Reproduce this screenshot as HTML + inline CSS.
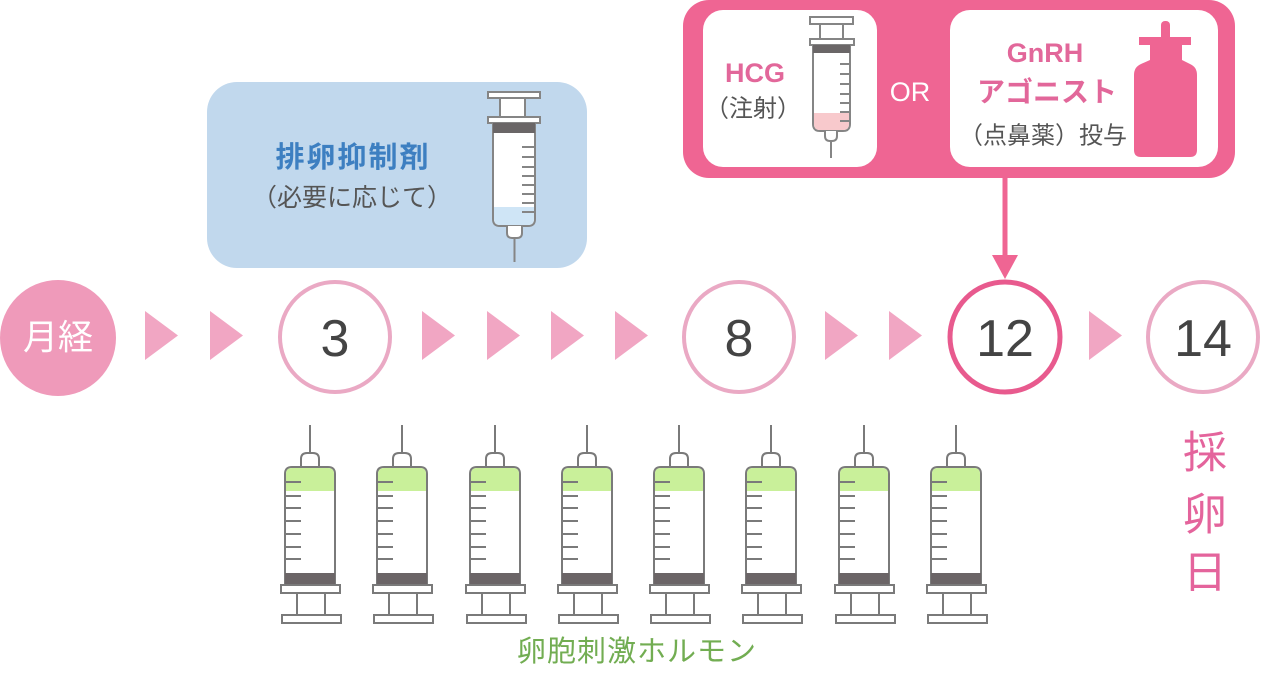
<!DOCTYPE html>
<html><head><meta charset="utf-8">
<style>
html,body{margin:0;padding:0;background:#fff;}
svg{display:block;}
text{font-family:"Liberation Sans","Noto Sans CJK JP",sans-serif;}
</style></head>
<body>
<svg width="1263" height="680" viewBox="0 0 1263 680" xmlns="http://www.w3.org/2000/svg">
<defs>
  <g id="gs">
    <line x1="0" y1="425" x2="0" y2="454" stroke="#7a7a7a" stroke-width="2"/>
    <path d="M-9,468 V459 Q-9,453 -3,453 H3 Q9,453 9,459 V468" fill="#fff" stroke="#7a7a7a" stroke-width="2"/>
    <path d="M-25,585 V474 Q-25,467 -18,467 H18 Q25,467 25,474 V585 Z" fill="#fff" stroke="#7a7a7a" stroke-width="2"/>
    <path d="M-24,491 V474 Q-24,468 -18,468 H18 Q24,468 24,474 V491 Z" fill="#c9f09a"/>
    <g stroke="#7a7a7a" stroke-width="2">
      <line x1="-24" y1="482" x2="-9" y2="482"/>
      <line x1="-24" y1="496" x2="-9" y2="496"/>
      <line x1="-24" y1="508" x2="-9" y2="508"/>
      <line x1="-24" y1="521" x2="-9" y2="521"/>
      <line x1="-24" y1="534" x2="-9" y2="534"/>
      <line x1="-24" y1="547" x2="-9" y2="547"/>
      <line x1="-24" y1="559" x2="-9" y2="559"/>
    </g>
    <rect x="-25" y="573" width="50" height="12" fill="#6b6567"/>
    <rect x="-29" y="585" width="59" height="8" fill="#fff" stroke="#7a7a7a" stroke-width="2"/>
    <line x1="-13" y1="593" x2="-13" y2="615" stroke="#7a7a7a" stroke-width="2"/>
    <line x1="15" y1="593" x2="15" y2="615" stroke="#7a7a7a" stroke-width="2"/>
    <rect x="-28" y="615" width="59" height="8" fill="#fff" stroke="#7a7a7a" stroke-width="2"/>
  </g>
</defs>

<!-- Blue box -->
<rect x="207" y="82" width="380" height="186" rx="30" fill="#c1d8ed"/>
<text x="353" y="158" font-size="29" font-weight="bold" fill="#3d7fc1" text-anchor="middle" dominant-baseline="central" letter-spacing="2">排卵抑制剤</text>
<text x="352" y="198" font-size="25" fill="#555" text-anchor="middle" dominant-baseline="central">（必要に応じて）</text>
<!-- blue syringe -->
<g stroke="#858585" stroke-width="2">
  <rect x="488" y="92" width="52" height="6" fill="#fff"/>
  <rect x="500" y="98" width="25" height="19" fill="#fff"/>
  <rect x="488" y="117" width="52" height="6" fill="#fff"/>
  <path d="M493,123 H535 V219 Q535,226 528,226 H500 Q493,226 493,219 Z" fill="#fff"/>
</g>
<path d="M494,207 H534 V219 Q534,225 528,225 H500 Q494,225 494,219 Z" fill="#cfe5f6"/>
<rect x="493" y="123" width="42" height="10" fill="#6a6667"/>
<g stroke="#858585" stroke-width="2">
  <line x1="522" y1="147" x2="534" y2="147"/><line x1="522" y1="157" x2="534" y2="157"/>
  <line x1="522" y1="167" x2="534" y2="167"/><line x1="522" y1="176" x2="534" y2="176"/>
  <line x1="522" y1="185" x2="534" y2="185"/><line x1="522" y1="194" x2="534" y2="194"/>
  <line x1="522" y1="203" x2="534" y2="203"/><line x1="522" y1="212" x2="534" y2="212"/>
  <path d="M507,226 V233 Q507,238 512,238 H517 Q522,238 522,233 V226" fill="#fff"/>
  <line x1="514.5" y1="238" x2="514.5" y2="262"/>
</g>

<!-- Pink box -->
<rect x="683" y="0" width="552" height="178" rx="26" fill="#ef6593"/>
<rect x="703" y="10" width="174" height="157" rx="20" fill="#fff"/>
<rect x="950" y="10" width="268" height="157" rx="20" fill="#fff"/>
<text x="755" y="73" font-size="27" font-weight="bold" fill="#e2679a" text-anchor="middle" dominant-baseline="central">HCG</text>
<text x="753" y="109" font-size="24" fill="#555" text-anchor="middle" dominant-baseline="central">（注射）</text>
<text x="910" y="92" font-size="27" fill="#fff" text-anchor="middle" dominant-baseline="central">OR</text>
<text x="1045" y="53" font-size="27" font-weight="bold" fill="#e2679a" text-anchor="middle" dominant-baseline="central">GnRH</text>
<text x="1047" y="92" font-size="28" font-weight="bold" fill="#e2679a" text-anchor="middle" dominant-baseline="central">アゴニスト</text>
<text x="1043" y="136" font-size="24" fill="#555" text-anchor="middle" dominant-baseline="central">（点鼻薬）投与</text>
<!-- HCG syringe -->
<g stroke="#858585" stroke-width="2">
  <rect x="810" y="17" width="43" height="7" fill="#fff"/>
  <rect x="820" y="24" width="23" height="15" fill="#fff"/>
  <rect x="810" y="39" width="44" height="6" fill="#fff"/>
  <path d="M813,45 H850 V124 Q850,131 843,131 H820 Q813,131 813,124 Z" fill="#fff"/>
</g>
<path d="M814,113 H849 V124 Q849,130 843,130 H820 Q814,130 814,124 Z" fill="#f8c9cc"/>
<rect x="813" y="45" width="37" height="8" fill="#6a6667"/>
<g stroke="#858585" stroke-width="2">
  <line x1="840" y1="64" x2="850" y2="64"/><line x1="840" y1="74" x2="850" y2="74"/>
  <line x1="840" y1="84" x2="850" y2="84"/><line x1="840" y1="94" x2="850" y2="94"/>
  <line x1="840" y1="103" x2="850" y2="103"/><line x1="840" y1="112" x2="850" y2="112"/>
  <line x1="840" y1="121" x2="850" y2="121"/>
  <path d="M825,131 V136 Q825,141 830,141 H832 Q837,141 837,136 V131" fill="#fff"/>
  <line x1="831" y1="141" x2="831" y2="158"/>
</g>
<!-- bottle -->
<g fill="#ef6593">
  <rect x="1161" y="21" width="9" height="20" rx="4"/>
  <rect x="1139" y="37" width="52" height="8"/>
  <rect x="1150" y="45" width="32" height="20"/>
  <path d="M1150,60 L1141,64 Q1134,67 1134,75 V150 Q1134,157 1141,157 H1190 Q1197,157 1197,150 V75 Q1197,67 1190,64 L1182,60 Z"/>
</g>

<!-- arrow -->
<line x1="1005" y1="178" x2="1005" y2="258" stroke="#ef6593" stroke-width="5"/>
<polygon points="992,255 1018,255 1005,279" fill="#ef6593"/>

<!-- timeline -->
<circle cx="58" cy="338" r="58" fill="#ef9aba"/>
<text x="58" y="338" font-size="35" fill="#fff" text-anchor="middle" dominant-baseline="central">月経</text>
<g fill="#f1a6c3">
  <polygon points="145,311 178,335.5 145,360"/>
  <polygon points="210,311 243,335.5 210,360"/>
  <polygon points="422,311 455,335.5 422,360"/>
  <polygon points="487,311 520,335.5 487,360"/>
  <polygon points="551,311 584,335.5 551,360"/>
  <polygon points="615,311 648,335.5 615,360"/>
  <polygon points="825,311 858,335.5 825,360"/>
  <polygon points="889,311 922,335.5 889,360"/>
  <polygon points="1089,311 1122,335.5 1089,360"/>
</g>
<circle cx="335" cy="337" r="55" fill="#fff" stroke="#eaa9c4" stroke-width="4"/>
<circle cx="739" cy="337" r="55" fill="#fff" stroke="#eaa9c4" stroke-width="4"/>
<circle cx="1005" cy="337" r="55" fill="#fff" stroke="#e85a8e" stroke-width="5"/>
<circle cx="1203" cy="337" r="55" fill="#fff" stroke="#eaa9c4" stroke-width="4"/>
<g font-size="52" fill="#444" text-anchor="middle">
  <text x="335" y="356">3</text>
  <text x="739" y="356">8</text>
  <text x="1005" y="356">12</text>
  <text x="1203" y="356">14</text>
</g>

<!-- green syringes -->
<use href="#gs" x="310"/>
<use href="#gs" x="402"/>
<use href="#gs" x="495"/>
<use href="#gs" x="587"/>
<use href="#gs" x="679"/>
<use href="#gs" x="771"/>
<use href="#gs" x="864"/>
<use href="#gs" x="956"/>

<text x="637" y="652" font-size="29" fill="#72ad52" text-anchor="middle" dominant-baseline="central" letter-spacing="1">卵胞刺激ホルモン</text>

<g font-size="44" fill="#e4649c" text-anchor="middle" dominant-baseline="central">
  <text x="1205" y="453">採</text>
  <text x="1205" y="515">卵</text>
  <text x="1205" y="573">日</text>
</g>
</svg>
</body></html>
